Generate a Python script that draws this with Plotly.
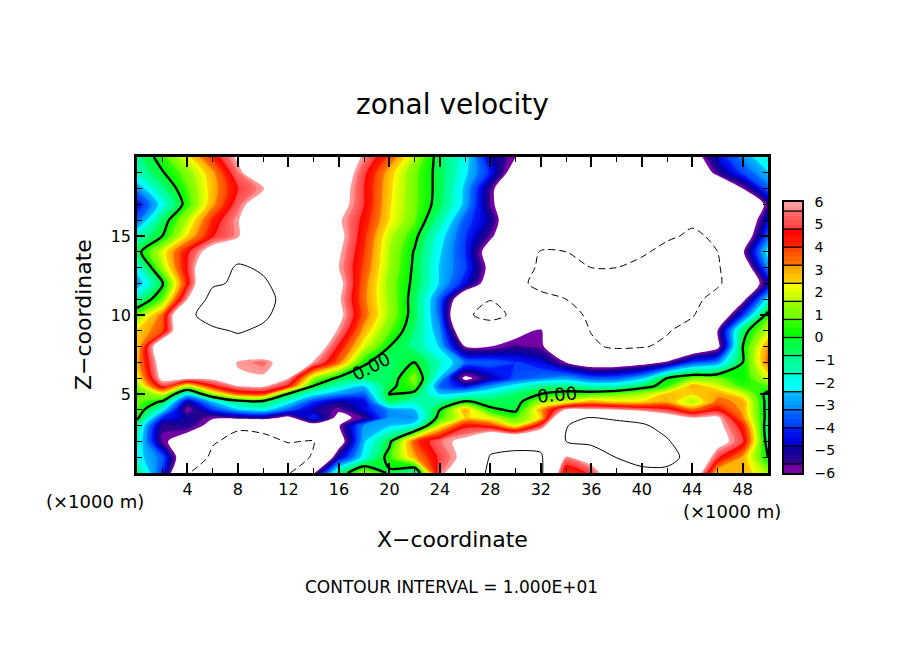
import numpy as np
import plotly.graph_objects as go

x_km = list(range(0, 52, 2))
z_km = [0, 1, 2, 3, 3.5, 4, 4.5, 5, 5.5, 6, 7, 8, 9, 10, 11, 12, 13, 14, 15, 16, 17, 18, 19, 20]

# zonal velocity, one row per z level
u_z00 = [-0.7, -4, -9.9, -11, -11, -11, -10.3, -6.2, -0.8, 1.5, -0.2, -1.5, 5.5, 8, 10.5, 11, 10.5, 3.8, 5, 8, 9.3, 9.3, 8, 2.5, 3, 1.5]
u_z01 = [-2, -3.5, -8, -10.5, -11, -11, -11, -9.8, -4.8, -2, 0.5, 3, 5, 6.5, 10.2, 10.5, 10.3, 5.8, 7, 10.1, 11, 11, 9, 5, 3, 0]
u_z02 = [-1.5, -5.7, -7, -9.8, -10.6, -10.5, -9.9, -10.1, -7, -2.5, -0.3, 3.8, 5.5, 6.5, 9, 9.3, 9.3, 10, 11, 11, 10.8, 10.3, 8, 6.8, 5, -0.6]
u_z03 = [-1, -5.5, -5.2, -6.5, -9.7, -9.5, -6.8, -6.8, -6.1, -3, -2.5, -2, 2, 4.5, 4, 2, 5, 9.9, 11, 11, 10.4, 9, 7, 6.5, 4.3, -0.8]
u_z035 = [0.3, -4, -5, -5.9, -5.5, -5.2, -6.5, -4, -6.5, -5.5, -3, -3, 0.5, 2.5, 2, 0.7, 2.5, 9.5, 10.1, 9.5, 9, 7, 6, 6.3, 3.3, -0.5]
u_z04 = [0.8, -2, -6, -4, -2.5, -2, -3.5, -5, -5.8, -4.5, -3, -2.5, 0, 3, 0.2, -0.2, 3, 6.2, 6.2, 6, 5.5, 5, 3.5, 4.5, 3, -0.5]
u_z045 = [1, -0.2, -5, -2.5, -0.7, -0.5, -2, -4, -5, -4.5, -0.6, -1.5, -1, 0.2, -0.4, -0.5, 1.5, 2, 3, 2.5, 2.5, 3, 1.5, 3.5, 3, -0.5]
u_z05 = [0.5, 2, -2, 1.5, 3.7, 4, -0.2, -2, -3, -3.5, 0.05, -0.4, -2.5, -2, -1.5, -0.7, 0, 0.5, 0.6, 1, 1.5, 2.7, 2.5, 3, 2, -0.4]
u_z055 = [1.2, 5, 1.8, 4.5, 6, 6.2, 4.5, -0.1, -1.5, -2.5, -0.3, 0.8, -3.5, -4.5, -3, -2, -1, -1, -1.5, -1.5, -0.5, 0.5, 3, 2, 0.5, 0.8]
u_z06 = [2, 6.5, 6.3, 6.3, 6.2, 6.2, 6, 1.5, -0.3, -0.8, -0.7, 1.2, -2.5, -6.4, -5, -3.7, -3.2, -2.8, -3.6, -3.5, -2.6, 0, 1, 1, 0.1, 2]
u_z07 = [2.8, 7, 9, 7.5, 5.9, 5.4, 7, 5.9, 3.5, 0.2, -0.8, 0.05, -1.5, -3.3, -3.5, -4, -4.5, -6, -7, -7, -6.6, -5.8, -3.8, -3, 0, 3.5]
u_z08 = [2.4, 8, 9.5, 9, 9, 8.5, 8, 7.4, 4.6, 2, 0, -1, -2.5, -6, -6, -5.5, -5.8, -7.5, -9.6, -10.4, -10.2, -9.5, -8, -6.5, 0, 3.2]
u_z09 = [2.5, 3.8, 9, 9.6, 10.2, 9.6, 8.5, 8, 5.8, 2.9, 0.9, -0.8, -3, -8, -8, -6.5, -5.8, -8.5, -10.1, -11, -11, -10.2, -9, -6, -0.5, 1.8]
u_z10 = [1, 3.5, 9.5, 11, 11, 10.4, 9, 8, 6.5, 3.6, 1.4, -0.5, -3.5, -9.5, -11, -9.4, -8, -9, -10.5, -11, -11.3, -11, -10.2, -8, -4, 0.5]
u_z11 = [-1.2, 0.9, 6, 11.5, 12, 10.5, 9.5, 8, 6.2, 3.4, 1.4, -0.5, -3.5, -8, -9.9, -9.2, -9.5, -10, -11, -11.5, -11.5, -11.3, -10.8, -9, -6.5, -2]
u_z12 = [-3, -0.2, 4.4, 9.5, 10.5, 10.3, 9, 8, 6.5, 3.5, 1.3, -0.3, -2.5, -4.4, -7, -9.5, -10.5, -11, -11.5, -11.5, -11.5, -11.5, -11, -10.4, -8, -5]
u_z13 = [-2, 1.5, 4.8, 8.7, 10.3, 9.7, 9, 8.5, 6, 3.8, 1.5, -0.2, -2.5, -3.8, -6.5, -9, -10.3, -10.3, -10, -10, -10.4, -11, -11.2, -10.3, -7.5, -3]
u_z14 = [-0.4, 2, 4.6, 7, 9, 9.5, 9.5, 9, 6.2, 4, 1.6, -0.1, -2.3, -4, -7, -9, -10.1, -10, -9.7, -9.6, -9.8, -10.4, -10.8, -10, -6.2, -2]
u_z15 = [-1.5, 0, 2.5, 4.7, 5.8, 8, 9.5, 9.5, 6.5, 4.2, 1.8, 0.3, -2, -3.9, -5.7, -8, -9, -9.2, -9.3, -9.4, -9.6, -9.8, -10.2, -9.8, -7.5, -3.5]
u_z16 = [-3.5, -0.6, 1.7, 4.2, 5.9, 8, 9.5, 9.5, 6.2, 4.5, 2.4, 0.9, -1.2, -3.6, -5, -8, -9, -9.2, -9.3, -9.4, -9.5, -9.6, -9.8, -9.5, -8, -4.5]
u_z17 = [-4.5, -2, 0.5, 3, 5.3, 7.5, 9.5, 9.5, 6.8, 4.8, 2.5, 1, -0.5, -2.7, -5.6, -8, -8.6, -9, -9.2, -9.4, -9.5, -9.5, -9.3, -9, -8.5, -5.5]
u_z18 = [-3, -1, 0.8, 2.8, 4.8, 5.9, 9, 9.5, 7, 4.8, 2.6, 1, -0.4, -2.6, -5.5, -8.5, -8.8, -9, -9.2, -9.4, -9.5, -9.5, -9, -8.5, -6, -3.5]
u_z19 = [-1.5, -0.1, 1.2, 3, 5.5, 8, 9.5, 9.5, 7.5, 5, 2.8, 1, -0.4, -2.2, -4.2, -7, -8.5, -9, -9.2, -9.3, -9.3, -9, -8, -5.5, -3.8, -2.5]
u_z20 = [-1, 0.5, 2.2, 4.2, 6.3, 9, 9.5, 9.5, 8, 5.7, 3.8, 1.6, -0.5, -2, -4.8, -6, -8, -9, -9.5, -9.5, -9.5, -9, -7, -4.5, -3, -1.5]

u_rows = [u_z00, u_z01, u_z02, u_z03, u_z035, u_z04, u_z045, u_z05, u_z055, u_z06, u_z07, u_z08,
          u_z09, u_z10, u_z11, u_z12, u_z13, u_z14, u_z15, u_z16, u_z17, u_z18, u_z19, u_z20]

x_ticks = [4, 8, 12, 16, 20, 24, 28, 32, 36, 40, 44, 48]
z_ticks = [5, 10, 15]
bar_ticks = [-6, -5, -4, -3, -2, -1, 0, 1, 2, 3, 4, 5, 6]
bar_edges = [-6, -5.6, -4.8, -4, -3.2, -2.4, -1.6, -0.8, 0, 0.8, 1.6, 2.4, 3.2, 4, 4.8, 5.6, 6]

color_vals = [-6, -5.6, -5.5, -4.8, -4.7, -4, -3.9, -3.2, -3.1, -2.4, -2.3, -1.6, -1.5, -0.8, -0.7, 0,
              0.1, 0.8, 0.9, 1.6, 1.7, 2.4, 2.5, 3.2, 3.3, 4, 4.1, 4.8, 4.9, 5.6, 5.7, 6]
color_hex = ['#7a00a8', '#6a00a0', '#300090', '#0000a0', '#0000d0', '#0020ff', '#0040ff', '#0070ff',
             '#0090ff', '#00c0ff', '#00ffff', '#00ffdd', '#00ffb0', '#00ff90', '#00ff60', '#00ff30',
             '#00ff00', '#40ff00', '#70ff00', '#a0ff00', '#c0ff00', '#ffff00', '#ffd000', '#ffa000',
             '#ff7000', '#ff4000', '#ff2000', '#ff0000', '#ff4040', '#ff7070', '#ff9090', '#ffa0a0']

FONT = 'DejaVu Sans'
W, H = 904, 654
PAGE = 8  # the page body margin pushes the figure right and down
step = 0.2
low, high = -6 - step / 2, 6 + step / 2


def fx(px):
    return (px - PAGE) / W


def fy(py):
    return 1 - (py - PAGE) / H


# white outside +-6, the contour fill picks the colour at level + step/2
colorscale = [[0, 'white']]
for v, c in zip(color_vals, color_hex):
    colorscale.append([(v - low) / (high - low), c])
colorscale.append([1, 'white'])

fig = go.Figure()

fig.add_trace(go.Contour(x=x_km, z=u_rows, y=z_km, colorscale=colorscale, showscale=False,
                         autocontour=False, contours=dict(start=-6, end=6, size=step, coloring='fill'),
                         line=dict(width=0, smoothing=0.8), hoverinfo='skip'))

# contour lines, interval 10: dashed below zero
for level, width, dash in [(0, 2.4, 'solid'), (10, 1, 'solid'), (-10, 1, '7px,4px')]:
    fig.add_trace(go.Contour(x=x_km, y=z_km, z=u_rows, showscale=False, autocontour=False,
                             contours=dict(start=level, end=level, size=1, coloring='none'),
                             line=dict(color='black', width=width, dash=dash, smoothing=0.8),
                             hoverinfo='skip'))

# colour bar as its own little heatmap
bar_mids = np.arange(-5.9, 6, step)
fig.add_trace(go.Heatmap(x=[0], y=bar_mids, z=[[v] for v in bar_mids], colorscale=colorscale,
                         zmin=low, zmax=high, showscale=False, xaxis='x2', yaxis='y2', hoverinfo='skip'))

axis_style = dict(showgrid=False, zeroline=False, showline=True, linecolor='black', linewidth=2.5,
                  mirror='ticks', ticks='inside', tickcolor='black', tickwidth=2, automargin=False,
                  tickfont=dict(family=FONT, size=16, color='black'))

fig.update_layout(
    width=W, height=H, autosize=False, showlegend=False,
    paper_bgcolor='white', plot_bgcolor='white',
    margin=dict(l=0, r=0, t=0, b=0),
    xaxis=dict(domain=[fx(137), fx(768)], range=[0, 50], tickmode='array', tickvals=x_ticks, ticklen=10,
               minor=dict(ticks='inside', tickmode='array', tickvals=list(range(2, 50, 4)), ticklen=5,
                          tickwidth=1, tickcolor='black'), **axis_style),
    yaxis=dict(domain=[fy(473), fy(157)], range=[0, 20], tickmode='array', tickvals=z_ticks, ticklen=8,
               minor=dict(ticks='inside', tickmode='array',
                          tickvals=[v for v in range(1, 20) if v % 5], ticklen=5,
                          tickwidth=1, tickcolor='black'), **axis_style),
    xaxis2=dict(domain=[fx(784), fx(802)], range=[-0.5, 0.5], showticklabels=False, ticks='', showgrid=False,
                zeroline=False, showline=True, linecolor='black', linewidth=1.5, mirror=True, anchor='y2',
                automargin=False),
    yaxis2=dict(domain=[fy(473), fy(202)], range=[-6, 6], side='right', anchor='x2', tickmode='array',
                tickvals=bar_ticks, ticktext=[str(v).replace('-', '\u2212') for v in bar_ticks], ticks='',
                showgrid=False, zeroline=False, showline=True, linecolor='black', linewidth=1.5, mirror=True,
                tickfont=dict(family=FONT, size=14, color='black'), ticklabelstandoff=8, automargin=False),
)

for edge in bar_edges[1:-1]:
    fig.add_shape(type='line', xref='x2', yref='y2', x0=-0.5, x1=0.5, y0=edge, y1=edge,
                  line=dict(color='black', width=1.3))

labels = [
    ('zonal velocity', 452, 104, 28, 0),
    ('X\u2212coordinate', 452, 539, 22, 0),
    ('Z\u2212coordinate', 83, 315, 22, -90),
    ('CONTOUR INTERVAL = 1.000E+01', 451, 587, 17, 0),
    ('(\u00d71000 m)', 95, 501, 18, 0),
    ('(\u00d71000 m)', 732, 511, 18, 0),
    ('0.00', 371, 366, 18, -27),
    ('0.00', 557, 394, 18, -5),
]
for text, px, py, size, angle in labels:
    fig.add_annotation(text=text, xref='paper', yref='paper', x=fx(px), y=fy(py), showarrow=False,
                       xanchor='center', yanchor='middle', textangle=angle,
                       font=dict(family=FONT, size=size, color='black'))

fig.write_html("out.html")
